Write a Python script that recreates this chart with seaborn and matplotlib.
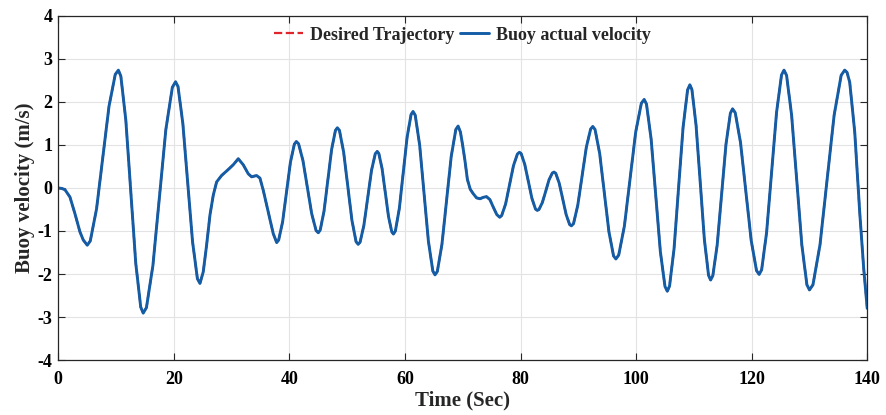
import matplotlib as mpl
import matplotlib.pyplot as plt
import seaborn as sns

# values (time in s, velocity in m/s)
time_s = [
    0.0, 0.6, 1.16, 2.02, 2.89, 3.75, 4.33, 5.02,
    5.54, 6.62, 7.70, 8.78, 9.86, 10.4,
    10.83, 11.69, 12.55, 13.41, 14.27, 14.7,
    15.26, 16.38, 17.50, 18.62, 19.74, 20.3,
    20.72, 21.56, 22.40, 23.24, 24.08, 24.52,
    25.09, 25.67, 26.25, 26.82, 27.40, 28.26, 29.42, 30.28, 31.15,
    32.01, 32.88, 33.46, 34.32, 34.90, 35.47, 36.34, 37.20, 37.8,
    38.14, 38.82, 39.50, 40.18, 40.86, 41.2,
    41.58, 42.34, 43.10, 43.86, 44.62, 45.0,
    45.33, 45.99, 46.65, 47.31, 47.97, 48.3,
    48.66, 49.38, 50.10, 50.82, 51.54, 51.9,
    52.23, 52.89, 53.55, 54.21, 54.87, 55.2,
    55.48, 56.04, 56.60, 57.16, 57.72, 58.0,
    58.34, 59.02, 59.70, 60.38, 61.06, 61.4,
    61.78, 62.54, 63.30, 64.06, 64.82, 65.2,
    65.60, 66.40, 67.20, 68.00, 68.80, 69.2,
    69.6, 70.0, 70.4, 70.8, 71.3, 71.8, 72.4, 73.0, 73.5, 74.1,
    74.7, 75.3, 75.9, 76.4,
    76.74, 77.42, 78.10, 78.78, 79.46, 79.8,
    80.11, 80.73, 81.35, 81.97, 82.59, 82.9,
    83.19, 83.77, 84.35, 84.93, 85.51, 85.8,
    86.10, 86.70, 87.30, 87.90, 88.50, 88.8,
    89.17, 89.91, 90.65, 91.39, 92.13, 92.5,
    92.90, 93.70, 94.50, 95.30, 96.10, 96.5,
    96.99, 97.97, 98.95, 99.93, 100.91, 101.4,
    101.80, 102.60, 103.40, 104.20, 105.00, 105.4,
    105.79, 106.57, 107.35, 108.13, 108.91, 109.3,
    109.66, 110.38, 111.10, 111.82, 112.54, 112.9,
    113.28, 114.04, 114.80, 115.56, 116.32, 116.7,
    117.16, 118.08, 119.00, 119.92, 120.84, 121.3,
    121.73, 122.59, 123.45, 124.31, 125.17, 125.6,
    126.04, 126.92, 127.80, 128.68, 129.56, 130.0,
    130.61, 131.83, 133.05, 134.27, 135.49, 136.1,
    136.5, 136.97, 137.84, 138.7, 139.39, 140.0,
]

actual_velocity = [
    0.0, -0.01, -0.04, -0.21, -0.60, -1.02, -1.21, -1.33,
    -1.23, -0.49, 0.70, 1.90, 2.64, 2.74,
    2.60, 1.58, -0.09, -1.75, -2.77, -2.91,
    -2.78, -1.80, -0.22, 1.36, 2.34, 2.47,
    2.36, 1.50, 0.13, -1.25, -2.11, -2.22,
    -1.95, -1.33, -0.63, -0.17, 0.14, 0.29, 0.43, 0.54, 0.68,
    0.54, 0.33, 0.26, 0.29, 0.23, -0.05, -0.56, -1.06, -1.27,
    -1.21, -0.79, -0.10, 0.60, 1.02, 1.08,
    1.03, 0.64, 0.02, -0.60, -0.99, -1.04,
    -0.98, -0.54, 0.18, 0.90, 1.34, 1.40,
    1.34, 0.84, 0.05, -0.75, -1.25, -1.31,
    -1.26, -0.87, -0.23, 0.41, 0.80, 0.85,
    0.80, 0.45, -0.11, -0.67, -1.02, -1.07,
    -1.00, -0.48, 0.36, 1.19, 1.71, 1.78,
    1.69, 1.00, -0.12, -1.24, -1.93, -2.02,
    -1.94, -1.31, -0.29, 0.73, 1.36, 1.44,
    1.30, 0.98, 0.62, 0.20, -0.03, -0.13, -0.23, -0.25, -0.22, -0.20,
    -0.27, -0.45, -0.62, -0.68,
    -0.64, -0.37, 0.08, 0.52, 0.79, 0.83,
    0.80, 0.55, 0.16, -0.24, -0.49, -0.52,
    -0.50, -0.34, -0.08, 0.19, 0.35, 0.37,
    0.34, 0.11, -0.26, -0.62, -0.85, -0.88,
    -0.83, -0.40, 0.28, 0.95, 1.37, 1.43,
    1.36, 0.80, -0.11, -1.02, -1.58, -1.65,
    -1.56, -0.89, 0.21, 1.30, 1.97, 2.06,
    1.95, 1.14, -0.17, -1.48, -2.29, -2.40,
    -2.28, -1.41, 0.00, 1.41, 2.28, 2.40,
    2.29, 1.46, 0.13, -1.20, -2.03, -2.14,
    -2.04, -1.32, -0.15, 1.02, 1.74, 1.84,
    1.75, 1.05, -0.09, -1.22, -1.92, -2.01,
    -1.90, -1.03, 0.37, 1.76, 2.63, 2.74,
    2.62, 1.69, 0.19, -1.32, -2.25, -2.37,
    -2.25, -1.32, 0.19, 1.69, 2.62, 2.74,
    2.69, 2.46, 1.30, -0.56, -1.87, -2.80,
]

# the desired trajectory is tracked almost exactly, so both curves coincide
desired_velocity = list(actual_velocity)

x_ticks = [0, 20, 40, 60, 80, 100, 120, 140]
y_ticks = [-4, -3, -2, -1, 0, 1, 2, 3, 4]

sns.set_style('whitegrid')
mpl.rcParams['font.family'] = ['Liberation Serif', 'DejaVu Serif']
mpl.rcParams['font.weight'] = 'bold'
mpl.rcParams['axes.unicode_minus'] = False

fig = plt.figure(figsize=(8.87, 4.15), dpi=100)
ax = fig.add_axes([0.0657, 0.1325, 0.912, 0.829])

sns.lineplot(x=time_s, y=desired_velocity, color='#e0242a', linestyle='--',
             dashes=(4, 5), linewidth=1.6, sort=False, estimator=None,
             label='Desired Trajectory', ax=ax)
sns.lineplot(x=time_s, y=actual_velocity, color='#135da6', linewidth=2.1,
             sort=False, estimator=None, label='Buoy actual velocity', ax=ax)
for ln in ax.get_lines():
    ln.set_solid_joinstyle('round')

ax.set_xlim(0, 140)
ax.set_ylim(-4, 4)
ax.set_xticks(x_ticks)
ax.set_yticks(y_ticks)
ax.tick_params(direction='in', length=5, width=0.8, colors='#262626',
               labelcolor='black', labelsize=13, top=True, right=True,
               bottom=True, left=True)
ax.tick_params(axis='x', pad=8)
ax.tick_params(axis='y', pad=4)
for lab in ax.get_xticklabels() + ax.get_yticklabels():
    lab.set_fontweight('bold')

ax.grid(True, color='#e3e3e3', linewidth=0.8)
for sp in ax.spines.values():
    sp.set_color('#262626')
    sp.set_linewidth(0.9)

ax.set_xlabel('Time (Sec)', fontsize=15, fontweight='bold', labelpad=2)
ax.set_ylabel('Buoy velocity (m/s)', fontsize=15, fontweight='bold', labelpad=2)

leg = ax.legend(loc='upper center', bbox_to_anchor=(0.5, 1.0), ncol=2,
                frameon=False, fontsize=13, handlelength=1.6,
                handletextpad=0.4, columnspacing=0.3, borderaxespad=0.2)
for t in leg.get_texts():
    t.set_fontweight('bold')

fig.savefig('out.png', dpi=100)
